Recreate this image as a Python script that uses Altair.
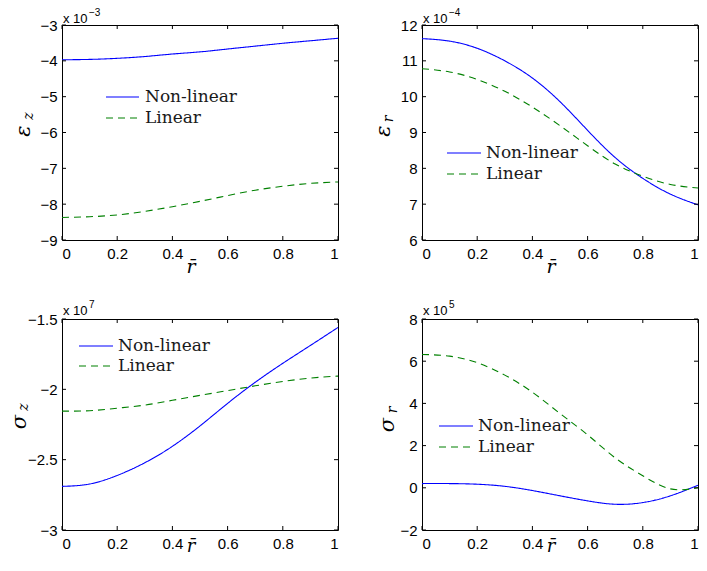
import altair as alt
import pandas as pd

# ---------------- data ----------------
r_vals = [0.0, 0.1, 0.2, 0.3, 0.4, 0.5, 0.6, 0.7, 0.8, 0.9, 1.0]
x_ticks = [0, 0.2, 0.4, 0.6, 0.8, 1]
series_names = ["Non-linear", "Linear"]

# epsilon_z  (x 1e-3)
eps_z_nonlinear = [-3.97, -3.96, -3.93, -3.88, -3.81, -3.75, -3.67, -3.59, -3.51, -3.44, -3.37]
eps_z_linear = [-8.37, -8.35, -8.30, -8.20, -8.07, -7.92, -7.76, -7.61, -7.50, -7.42, -7.38]
eps_z_ticks = [-9, -8, -7, -6, -5, -4, -3]

# epsilon_r  (x 1e-4)
eps_r_nonlinear = [11.62, 11.55, 11.35, 11.00, 10.52, 9.86, 9.06, 8.30, 7.72, 7.28, 6.98]
eps_r_linear = [10.78, 10.69, 10.48, 10.15, 9.71, 9.19, 8.63, 8.12, 7.78, 7.55, 7.45]
eps_r_ticks = [6, 7, 8, 9, 10, 11, 12]

# sigma_z  (x 1e7)
sig_z_nonlinear = [-2.69, -2.673, -2.612, -2.522, -2.405, -2.26, -2.10, -1.95, -1.815, -1.688, -1.56]
sig_z_linear = [-2.155, -2.152, -2.134, -2.112, -2.078, -2.043, -2.009, -1.975, -1.944, -1.920, -1.906]
sig_z_ticks = [-3, -2.5, -2, -1.5]

# sigma_r  (x 1e5)
sig_r_nonlinear = [0.20, 0.20, 0.17, 0.07, -0.13, -0.38, -0.62, -0.78, -0.70, -0.38, 0.12]
sig_r_linear = [6.32, 6.24, 5.93, 5.34, 4.53, 3.52, 2.51, 1.42, 0.57, -0.05, 0.0]
sig_r_ticks = [-2, 0, 2, 4, 6, 8]

W = 276
H_TOP, H_BOT = 215, 211
TICK = 4
BLUE, GREEN = "#0000ff", "#008000"
DASH = [7, 5]
SANS = "Liberation Sans"
SERIF = "DejaVu Serif"

one = pd.DataFrame({"k": [0]})


def panel(nl, li, ydom, yticks, sym, sub, sym_pos, sub_pos, exp_txt, mult_y, leg, H, xt_y, xt_size):
    df = pd.DataFrame({
        "r": r_vals + r_vals,
        "v": nl + li,
        "s": [series_names[0]] * len(r_vals) + [series_names[1]] * len(r_vals),
    })
    xs = alt.Scale(domain=[0, 1], nice=False, zero=False)
    ys = alt.Scale(domain=ydom, nice=False, zero=False)
    xax = alt.Axis(values=x_ticks, format="~g", title=None, ticks=False, tickSize=0,
                   domain=False, grid=False, labelPadding=6, labelFont=SANS,
                   labelFontSize=15, labelColor="black")
    yax = alt.Axis(values=yticks, format="~g", title=None, ticks=False, tickSize=0,
                   domain=False, grid=False, labelPadding=5, labelFont=SANS,
                   labelFontSize=15, labelColor="black")

    lines = alt.Chart(df).mark_line(strokeWidth=1.1, interpolate="natural").encode(
        x=alt.X("r:Q", scale=xs, axis=xax),
        y=alt.Y("v:Q", scale=ys, axis=yax),
        color=alt.Color("s:N", scale=alt.Scale(domain=series_names, range=[BLUE, GREEN]), legend=None),
        strokeDash=alt.StrokeDash("s:N", scale=alt.Scale(domain=series_names, range=[[1, 0], DASH]), legend=None),
    )

    xt = pd.DataFrame({"t": x_ticks})
    yt = pd.DataFrame({"t": yticks})
    tb = alt.Chart(xt).mark_rule(color="black", strokeWidth=1).encode(
        x=alt.X("t:Q", scale=xs, axis=xax), y=alt.value(H), y2=alt.value(H - TICK))
    tt = alt.Chart(xt).mark_rule(color="black", strokeWidth=1).encode(
        x=alt.X("t:Q", scale=xs, axis=xax), y=alt.value(0), y2=alt.value(TICK))
    tl = alt.Chart(yt).mark_rule(color="black", strokeWidth=1).encode(
        y=alt.Y("t:Q", scale=ys, axis=yax), x=alt.value(0), x2=alt.value(TICK))
    tr = alt.Chart(yt).mark_rule(color="black", strokeWidth=1).encode(
        y=alt.Y("t:Q", scale=ys, axis=yax), x=alt.value(W), x2=alt.value(W - TICK))

    # legend
    lx0, lx1, tx, ly0, ly1 = leg
    leg_nl = alt.Chart(one).mark_rule(color=BLUE, strokeWidth=1.1).encode(
        x=alt.value(lx0), x2=alt.value(lx1), y=alt.value(ly0))
    leg_li = alt.Chart(one).mark_rule(color=GREEN, strokeWidth=1.1, strokeDash=DASH).encode(
        x=alt.value(lx0), x2=alt.value(lx1), y=alt.value(ly1))
    leg_t1 = alt.Chart(one).mark_text(align="left", baseline="middle", font=SERIF, fontSize=17,
                                       color="#1a1a1a").encode(
        x=alt.value(tx), y=alt.value(ly0), text=alt.value(series_names[0]))
    leg_t2 = alt.Chart(one).mark_text(align="left", baseline="middle", font=SERIF, fontSize=17,
                                       color="#1a1a1a").encode(
        x=alt.value(tx), y=alt.value(ly1), text=alt.value(series_names[1]))

    # y title (symbol + subscript), rotated
    t_sym = alt.Chart(one).mark_text(angle=270, align="center", baseline="middle", font=SERIF,
                                      fontStyle="italic", fontSize=21, color="black").encode(
        x=alt.value(sym_pos[0]), y=alt.value(sym_pos[1]), text=alt.value(sym))
    t_sub = alt.Chart(one).mark_text(angle=270, align="center", baseline="middle", font=SERIF,
                                      fontStyle="italic", fontSize=14, color="black").encode(
        x=alt.value(sub_pos[0]), y=alt.value(sub_pos[1]), text=alt.value(sub))

    # x title r-bar
    t_x = alt.Chart(one).mark_text(align="center", baseline="middle", font=SERIF,
                                    fontStyle="italic", fontSize=xt_size, color="black").encode(
        x=alt.value(129), y=alt.value(H + xt_y), text=alt.value("r\u0304"))

    # multiplier
    t_m = alt.Chart(one).mark_text(align="left", baseline="alphabetic", font=SANS,
                                    fontSize=13, color="black").encode(
        x=alt.value(1), y=alt.value(mult_y), text=alt.value("x 10"))
    t_e = alt.Chart(one).mark_text(align="left", baseline="alphabetic", font=SANS,
                                    fontSize=10, color="black").encode(
        x=alt.value(27), y=alt.value(mult_y - 7), text=alt.value(exp_txt))

    return alt.layer(lines, tb, tt, tl, tr, leg_nl, leg_li, leg_t1, leg_t2,
                     t_sym, t_sub, t_x, t_m, t_e).properties(width=W, height=H)


p1 = panel(eps_z_nonlinear, eps_z_linear, [-9, -3], eps_z_ticks, "\u03b5", "z",
           (-38, 106), (-33, 91), "\u22123", -2, (44, 77, 83, 72, 93), H_TOP, 27, 19)
p2 = panel(eps_r_nonlinear, eps_r_linear, [6, 12], eps_r_ticks, "\u03b5", "r",
           (-38, 106), (-33, 94), "\u22124", -2, (25, 59, 64, 128, 149), H_TOP, 27, 19)
p3 = panel(sig_z_nonlinear, sig_z_linear, [-3, -1.5], sig_z_ticks, "\u03c3", "z",
           (-42, 103), (-38, 88), "7", -4, (17, 51, 56, 27, 47), H_BOT, 17, 18)
p4 = panel(sig_r_nonlinear, sig_r_linear, [-2, 8], sig_r_ticks, "\u03c3", "r",
           (-34, 106), (-29, 91), "5", -4, (17, 51, 56, 107, 128), H_BOT, 17, 18)

chart = alt.concat(p1, p2, p3, p4, columns=2,
                   spacing=alt.RowColnumber(row=79, column=84)).properties(
    bounds="flush",
    autosize=alt.AutoSizeParams(type="none"),
    padding={"left": 54, "top": 17, "right": 637, "bottom": 532},
    background="white",
).configure_view(stroke="black", strokeWidth=1)

chart.save("out.html", embed_options={"renderer": "svg", "actions": False})
